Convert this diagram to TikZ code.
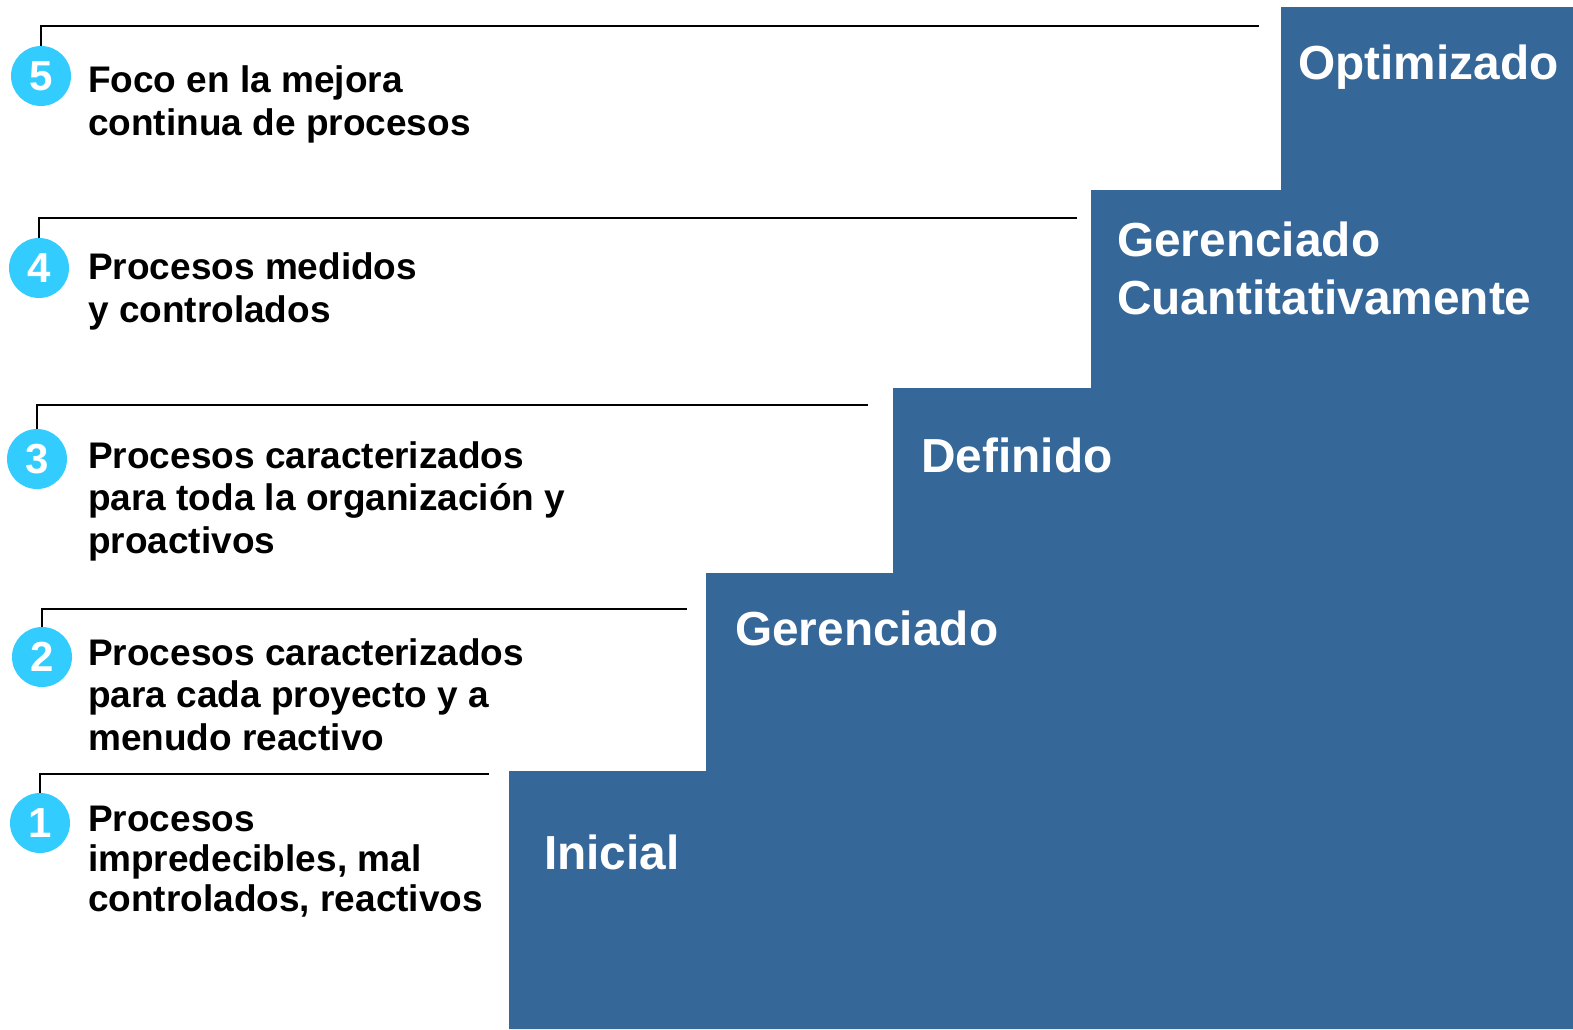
\documentclass[tikz,border=0pt]{standalone}
\usepackage{fontspec}
\setmainfont{Liberation Sans}
\definecolor{stairblue}{RGB}{53,103,153}
\definecolor{numcyan}{RGB}{51,204,255}
\begin{document}
\begin{tikzpicture}[x=1pt,y=-1pt,
  numc/.style={circle,fill=numcyan,minimum size=60pt,inner sep=0pt,text=white,font=\bfseries\fontsize{42}{46}\selectfont},
  desc/.style={anchor=base west,inner sep=0pt,align=left,font=\bfseries\fontsize{37}{42.5}\selectfont},
  lvl/.style={anchor=base west,inner sep=0pt,align=left,text=white,font=\bfseries\fontsize{47.8}{58}\selectfont},
  conn/.style={line width=2.6pt}]
\useasboundingbox (0,0) rectangle (1573,1029);
% stairs
\fill[stairblue] (509,1029) -- (509,771) -- (706,771) -- (706,573) -- (893,573) -- (893,388)
  -- (1091,388) -- (1091,190) -- (1281,190) -- (1281,7) -- (1573,7) -- (1573,1029) -- cycle;
% level labels (anchor = baseline of last line)
\node[lvl] (l5) at (1298,79) {Optimizado};
\node[lvl] (l4) at (1117,314) {Gerenciado\\Cuantitativamente};
\node[lvl] (l3) at (921,472) {Definido};
\node[lvl] (l2) at (735,645) {Gerenciado};
\node[lvl] (l1) at (544,869) {Inicial};
% number circles
\node[numc] (c5) at (41,76) {5};
\node[numc] (c4) at (39,268) {4};
\node[numc] (c3) at (37,459) {3};
\node[numc] (c2) at (42,657) {2};
\node[numc] (c1) at (40,823) {1};
% line ends
\coordinate (e5) at (1259,26);
\coordinate (e4) at (1077,218);
\coordinate (e3) at (868,405);
\coordinate (e2) at (687,609);
\coordinate (e1) at (489,774);
\draw[conn] (c5.north) |- (e5);
\draw[conn] (c4.north) |- (e4);
\draw[conn] (c3.north) |- (e3);
\draw[conn] (c2.north) |- (e2);
\draw[conn] (c1.north) |- (e1);
% descriptions (anchor = baseline of last line)
\node[desc] (d5) at (88,135) {Foco en la mejora\\continua de procesos};
\node[desc] (d4) at (88,322) {Procesos medidos\\y controlados};
\node[desc] (d3) at (88,553) {Procesos caracterizados\\para toda la organización y\\proactivos};
\node[desc] (d2) at (88,750) {Procesos caracterizados\\para cada proyecto y a\\menudo reactivo};
\node[desc,font=\bfseries\fontsize{37}{40}\selectfont] (d1) at (88,911) {Procesos\\impredecibles, mal\\controlados, reactivos};
\end{tikzpicture}
\end{document}
